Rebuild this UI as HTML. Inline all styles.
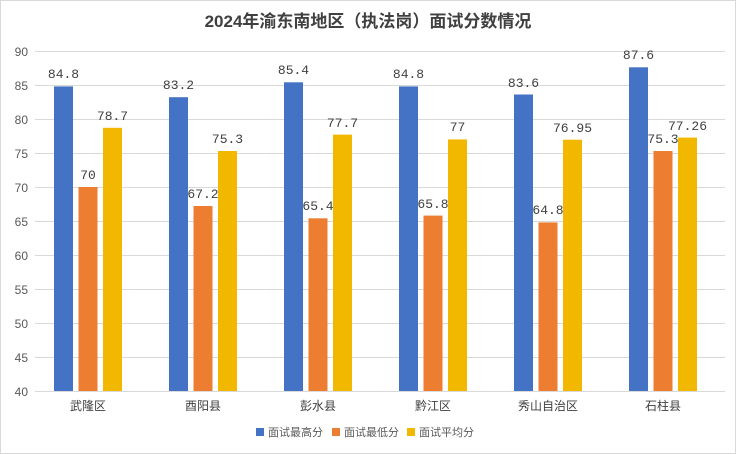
<!DOCTYPE html>
<html><head><meta charset="utf-8"><style>
body{margin:0;background:#fff}
svg{display:block;font-family:"Liberation Sans","Noto Sans CJK SC",sans-serif}
</style></head><body>
<svg width="736" height="454" viewBox="0 0 736 454" xmlns="http://www.w3.org/2000/svg">
<rect x="0.5" y="0.5" width="735" height="453" fill="#fff" stroke="#d9d9d9"/>
<text x="368" y="27" text-anchor="middle" font-size="17" font-weight="bold" fill="#404040">2024年渝东南地区（执法岗）面试分数情况</text>
<g stroke="#d9d9d9" stroke-width="1">
<line x1="35" x2="725" y1="51.5" y2="51.5"/><line x1="35" x2="725" y1="85.5" y2="85.5"/>
<line x1="35" x2="725" y1="119.5" y2="119.5"/><line x1="35" x2="725" y1="153.5" y2="153.5"/>
<line x1="35" x2="725" y1="187.5" y2="187.5"/><line x1="35" x2="725" y1="221.5" y2="221.5"/>
<line x1="35" x2="725" y1="255.5" y2="255.5"/><line x1="35" x2="725" y1="289.5" y2="289.5"/>
<line x1="35" x2="725" y1="323.5" y2="323.5"/><line x1="35" x2="725" y1="357.5" y2="357.5"/>
<line x1="35" x2="725" y1="391.5" y2="391.5"/>
</g>
<g font-size="12" fill="#595959" text-anchor="end">
<text x="28" y="56">90</text><text x="28" y="90">85</text><text x="28" y="124">80</text>
<text x="28" y="158">75</text><text x="28" y="192">70</text><text x="28" y="226">65</text>
<text x="28" y="260">60</text><text x="28" y="294">55</text><text x="28" y="328">50</text>
<text x="28" y="362">45</text><text x="28" y="396">40</text>
</g>
<g fill="#4472c4">
<rect x="54" y="86.4" width="19" height="304.6"/>
<rect x="169" y="97.2" width="19" height="293.8"/>
<rect x="284" y="82.3" width="19" height="308.7"/>
<rect x="399" y="86.4" width="19" height="304.6"/>
<rect x="514" y="94.5" width="19" height="296.5"/>
<rect x="629" y="67.3" width="19" height="323.7"/>
</g>
<g fill="#ed7d31">
<rect x="78.5" y="187" width="19" height="204"/>
<rect x="193.5" y="206" width="19" height="185"/>
<rect x="308.5" y="218.3" width="19" height="172.7"/>
<rect x="423.5" y="215.6" width="19" height="175.4"/>
<rect x="538.5" y="222.4" width="19" height="168.6"/>
<rect x="653.5" y="151" width="19" height="240"/>
</g>
<g fill="#f2b800">
<rect x="103" y="127.8" width="19" height="263.2"/>
<rect x="218" y="151" width="19" height="240"/>
<rect x="333" y="134.6" width="19" height="256.4"/>
<rect x="448" y="139.4" width="19" height="251.6"/>
<rect x="563" y="139.7" width="19" height="251.3"/>
<rect x="678" y="137.6" width="19" height="253.4"/>
</g>
<g font-size="13" fill="#404040" text-anchor="middle" font-family="Liberation Mono, monospace">
<text x="63.5" y="78">84.8</text><text x="88" y="179">70</text><text x="112.5" y="120">78.7</text>
<text x="178.5" y="89">83.2</text><text x="203" y="198">67.2</text><text x="227.5" y="143">75.3</text>
<text x="293.5" y="74">85.4</text><text x="318" y="210">65.4</text><text x="342.5" y="127">77.7</text>
<text x="408.5" y="78">84.8</text><text x="433" y="208">65.8</text><text x="457.5" y="131">77</text>
<text x="523.5" y="87">83.6</text><text x="548" y="214">64.8</text><text x="572.5" y="132">76.95</text>
<text x="638.5" y="59">87.6</text><text x="663" y="143">75.3</text><text x="687.5" y="130">77.26</text>
</g>
<g font-size="12" fill="#404040" text-anchor="middle">
<text x="88" y="410">武隆区</text><text x="203" y="410">酉阳县</text><text x="318" y="410">彭水县</text>
<text x="433" y="410">黔江区</text><text x="548" y="410">秀山自治区</text><text x="663" y="410">石柱县</text>
</g>
<g font-size="11" fill="#595959">
<rect x="256" y="428" width="8" height="8" fill="#4472c4"/><text x="268" y="436">面试最高分</text>
<rect x="332" y="428" width="8" height="8" fill="#ed7d31"/><text x="344" y="436">面试最低分</text>
<rect x="407" y="428" width="8" height="8" fill="#f2b800"/><text x="419" y="436">面试平均分</text>
</g>
</svg>
</body></html>
